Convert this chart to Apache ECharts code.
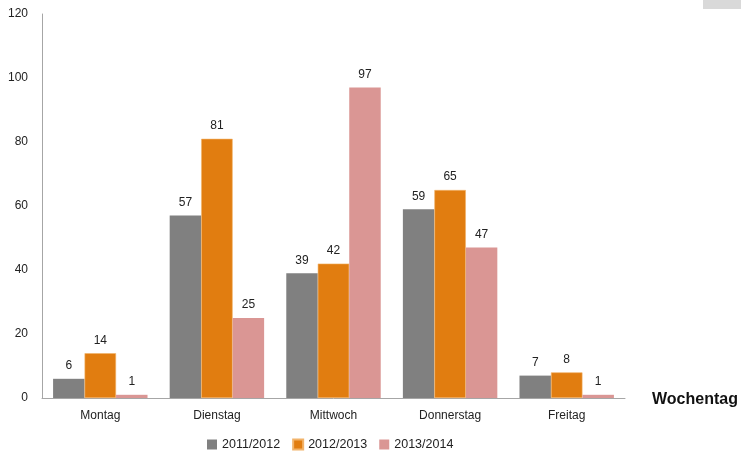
<!DOCTYPE html>
<html><head><meta charset="utf-8">
<script src="https://cdn.jsdelivr.net/npm/echarts@6/dist/echarts.min.js"></script>
<style>html,body{margin:0;padding:0;background:#fff}#c{width:741px;height:453px}</style>
</head><body><div id="c"></div>
<script>
const categories = ['Montag','Dienstag','Mittwoch','Donnerstag','Freitag'];
const seriesNames = ['2011/2012','2012/2013','2013/2014'];
const s2011 = [6,57,39,59,7];
const s2012 = [14,81,42,65,8];
const s2013 = [1,25,97,47,1];
const yTicks = {min:0,max:120,interval:20};
const colors = ['#808080','#E17D10','#DA9694'];
const font = 'Liberation Sans, Arial, sans-serif';
const chart = echarts.init(document.getElementById('c'));
const mk = (name, data, i) => ({
  name, type:'bar', data, barGap:'0%', barCategoryGap:'19%',
  itemStyle:{color:colors[i], borderColor: i===1 ? '#F2B36A' : colors[i], borderWidth: i===1?0.6:0},
  label:{show:true, position:'top', distance:7, color:'#222', fontSize:12, fontFamily:font}
});
chart.setOption({
  animation:false,
  textStyle:{fontFamily:font},
  color:colors,
  grid:{left:42,right:116,top:14,bottom:55,containLabel:false},
  legend:{data:seriesNames, top:433, left:202, itemWidth:10, itemHeight:10, itemGap:12,
    icon:'rect', textStyle:{fontSize:12.5,color:'#222',fontFamily:font}},
  xAxis:{type:'category', data:categories, name:'Wochentag', nameLocation:'end', nameGap:27,
    nameTextStyle:{fontSize:16,fontWeight:'bold',color:'#111',fontFamily:font,verticalAlign:'top',padding:[-6,0,0,0]},
    axisLine:{lineStyle:{color:'#A6A6A6'}}, axisTick:{show:false},
    axisLabel:{color:'#222',fontSize:12,margin:12,fontFamily:font}},
  yAxis:{type:'value', min:yTicks.min, max:yTicks.max, interval:yTicks.interval,
    axisLine:{show:true,lineStyle:{color:'#A6A6A6'}}, axisTick:{show:false}, splitLine:{show:false},
    axisLabel:{color:'#222',fontSize:12,margin:14,fontFamily:font}},
  graphic:[{type:'rect', shape:{x:703,y:0,width:38,height:9}, style:{fill:'#D9D9D9'}}],
  series:[mk(seriesNames[0],s2011,0),mk(seriesNames[1],s2012,1),mk(seriesNames[2],s2013,2)]
});
</script></body></html>
